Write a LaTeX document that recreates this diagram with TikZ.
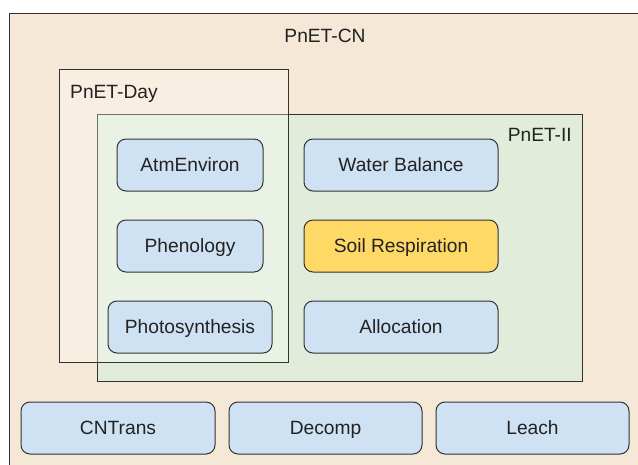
\documentclass[tikz,border=0pt]{standalone}
\usepackage{fontspec}
\setmainfont{Liberation Sans}
\definecolor{outerbg}{HTML}{F5E8D6}
\definecolor{iibg}{HTML}{E1ECDB}
\definecolor{boxblue}{HTML}{CFE2F3}
\definecolor{boxyellow}{HTML}{FED966}
\definecolor{edge}{HTML}{333333}
\definecolor{txt}{HTML}{222222}
\tikzset{
  container/.style={draw=edge, line width=1pt, anchor=north west, inner sep=0pt},
  modbox/.style={draw=edge, line width=1pt, fill=boxblue, rounded corners=9pt,
    minimum height=52pt, inner sep=0pt, text=txt, text height=13.8pt, text depth=0pt,
    font=\fontsize{19.2}{23}\selectfont},
  lbl/.style={text=txt, inner sep=0pt, text height=13.8pt, text depth=0pt,
    font=\fontsize{19.2}{23}\selectfont}
}
\begin{document}
\begin{tikzpicture}[x=1pt,y=-1pt]
\useasboundingbox (0,0) rectangle (638,464);
\fill[white] (0,0) rectangle (638,464);
% outer PnET-CN
\node[container, fill=outerbg, minimum width=640pt, minimum height=460pt] (cn) at (9,13) {};
\node[lbl] (cnlabel) at (325,35.5) {PnET-CN};
% PnET-II
\node[container, fill=iibg, minimum width=485pt, minimum height=267pt] (ii) at (97,114) {};
\node[lbl, anchor=east] (iilabel) at (572,135) {PnET-II};
% PnET-Day (translucent overlay)
\node[container, fill=white, fill opacity=0.3, minimum width=229pt, minimum height=293pt] (day) at (59,69) {};
\node[lbl, anchor=west] (daylabel) at (70,92) {PnET-Day};
% modules
\node[modbox, minimum width=146pt] (atm) at (190,165) {AtmEnviron};
\node[modbox, minimum width=194pt] (water) at (401,165) {Water Balance};
\node[modbox, minimum width=146pt] (phen) at (190,246) {Phenology};
\node[modbox, minimum width=194pt, fill=boxyellow] (soil) at (401,246) {Soil Respiration};
\node[modbox, minimum width=164pt] (photo) at (190,327) {Photosynthesis};
\node[modbox, minimum width=194pt] (alloc) at (401,327) {Allocation};
\node[modbox, minimum width=194pt] (cntrans) at (118,428) {CNTrans};
\node[modbox, minimum width=193pt] (decomp) at (325.5,428) {Decomp};
\node[modbox, minimum width=193pt] (leach) at (532.5,428) {Leach};
\end{tikzpicture}
\end{document}
